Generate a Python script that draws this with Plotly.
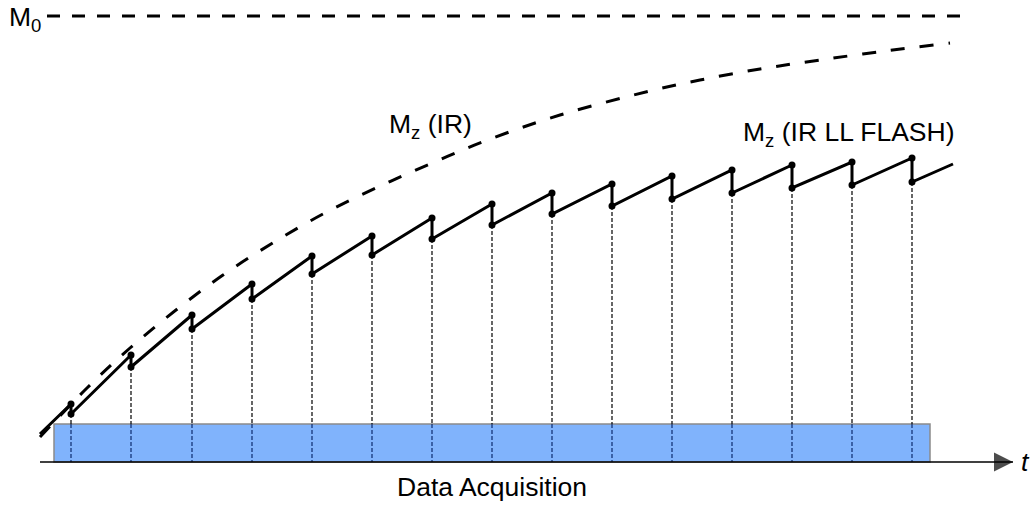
import plotly.graph_objects as go

# ---- data (time in acquisition units, magnetisation in arbitrary units) ----
# Look-Locker sampling times and Mz just before / just after each readout pulse
sample_t = [31, 91, 152, 212, 272, 332, 392, 452, 512, 572, 632, 692, 752, 812, 872]
mz_before = [58, 107, 147, 178, 206, 226, 244, 258, 269, 278, 286, 292, 297, 300, 304]
mz_after = [48, 95, 133, 163, 188, 207, 223, 237, 248, 256, 263, 269, 274, 277, 280]
ll_start = (0, 28)
ll_end = (913, 298)

# Undisturbed inversion-recovery curve
ir_t = [0, 47, 90, 136, 183, 231, 283, 336, 390, 445, 520, 610, 660, 720, 780, 845, 910]
ir_mz = [25, 74, 114, 152, 187, 218, 248, 274, 298, 321, 347, 371, 382, 393, 402, 411, 419]

# Equilibrium magnetisation
m0_value = 446
m0_t = [7, 928]

# Data acquisition window
acq_t = [14, 890]
acq_height = 38

# Time axis
axis_t = [0, 973]

FONT = "Arial, Liberation Sans, sans-serif"
FONT_SIZE = 26.5

fig = go.Figure()

# acquisition window (drawn beneath the traces)
fig.add_shape(type="rect", xref="x", yref="y",
              x0=acq_t[0], x1=acq_t[1], y0=0, y1=acq_height,
              fillcolor="#80b3fc", line=dict(color="#8a8a8a", width=1.5),
              layer="below")

# vertical readout markers: above the window and inside it
up_x, up_y, lo_x, lo_y = [], [], [], []
for t, a in zip(sample_t, mz_after):
    up_x += [t, t, None]
    up_y += [a, acq_height, None]
    lo_x += [t, t, None]
    lo_y += [acq_height, 0, None]
fig.add_trace(go.Scatter(x=up_x, y=up_y, mode="lines",
                         line=dict(color="black", width=1.2, dash="4px,2px"),
                         hoverinfo="skip"))
fig.add_trace(go.Scatter(x=lo_x, y=lo_y, mode="lines",
                         line=dict(color="#0d2b6e", width=1.2, dash="4px,2px"),
                         hoverinfo="skip"))

# M0 level
fig.add_trace(go.Scatter(x=m0_t, y=[m0_value, m0_value], mode="lines",
                         line=dict(color="black", width=3, dash="13px,12px"),
                         hoverinfo="skip"))

# IR recovery curve
fig.add_trace(go.Scatter(x=ir_t, y=ir_mz, mode="lines",
                         line=dict(color="black", width=3, dash="14px,15px",
                                   shape="spline", smoothing=1.0),
                         hoverinfo="skip"))

# IR Look-Locker FLASH sawtooth
saw_x = [ll_start[0]]
saw_y = [ll_start[1]]
for t, b, a in zip(sample_t, mz_before, mz_after):
    saw_x += [t, t]
    saw_y += [b, a]
saw_x.append(ll_end[0])
saw_y.append(ll_end[1])
fig.add_trace(go.Scatter(x=saw_x, y=saw_y, mode="lines",
                         line=dict(color="black", width=3),
                         hoverinfo="skip"))
fig.add_trace(go.Scatter(x=sample_t + sample_t, y=mz_before + mz_after,
                         mode="markers",
                         marker=dict(color="black", size=7),
                         hoverinfo="skip"))

# time axis with arrow head
fig.add_trace(go.Scatter(x=axis_t, y=[0, 0], mode="lines+markers",
                         line=dict(color="black", width=1.5),
                         marker=dict(symbol=["circle", "arrow-right"],
                                     size=[0, 19], color="black",
                                     line=dict(width=0)),
                         hoverinfo="skip"))

# labels
def label(text, x, y, xanchor="center", size=FONT_SIZE):
    fig.add_annotation(x=x, y=y, xref="x", yref="y", text=text,
                       showarrow=False, xanchor=xanchor, yanchor="middle",
                       font=dict(family=FONT, size=size, color="black"))

label("M<sub>0</sub>", -33, m0_value - 3, xanchor="left")
label("M<sub>z</sub> (IR)", 390, 336)
label("M<sub>z</sub> (IR LL FLASH)", 809, 328)
label("Data Acquisition", 452, -25)
label("<i>t</i>", 979, 0, xanchor="left")

fig.update_layout(
    width=1030, height=506,
    margin=dict(l=0, r=0, t=0, b=0),
    paper_bgcolor="white", plot_bgcolor="white",
    showlegend=False,
    xaxis=dict(range=[-40, 990], visible=False, fixedrange=True),
    yaxis=dict(range=[-44, 462], visible=False, fixedrange=True),
)

fig.write_html("out.html")
